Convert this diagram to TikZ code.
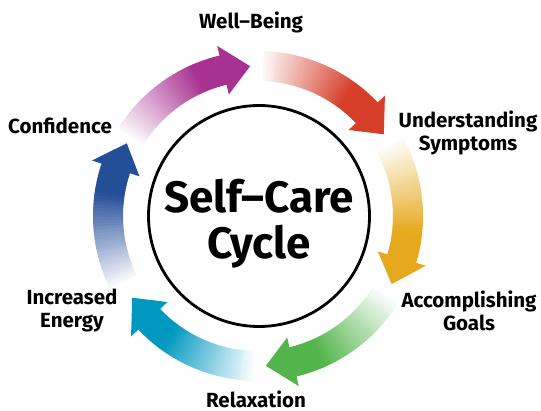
\documentclass[tikz,border=0pt]{standalone}
\usepackage{fontspec}
\setmainfont{Fira Sans}
\definecolor{cpurple}{RGB}{168,50,145}
\definecolor{cred}{RGB}{214,62,42}
\definecolor{cyellow}{RGB}{230,168,28}
\definecolor{cgreen}{RGB}{82,180,74}
\definecolor{ccyan}{RGB}{0,152,192}
\definecolor{cblue}{RGB}{36,78,152}
\newcommand\cycarrow[3]{%
 \begin{scope}[shift={(C)}]
  \pgfmathsetmacro\hb{#3+10.5}
  \pgfmathsetmacro\cyspan{#2-\hb}
  \foreach \k in {0,...,39}{
    \pgfmathsetmacro\aa{#2-\cyspan*\k/40}
    \pgfmathsetmacro\bb{#2-\cyspan*(\k+1)/40-0.3}
    \pgfmathtruncatemacro\pp{min(100,3+100*(\k+0.5)/32)}
    \fill[#1!\pp!white] (\aa:135pt) arc[start angle=\aa, end angle=\bb, radius=135pt] -- (\bb:165pt) arc[start angle=\bb, end angle=\aa, radius=165pt] -- cycle;
  }
  \fill[#1] (\hb:125pt) -- (#3:150pt) -- (\hb:175pt) -- cycle;
 \end{scope}}
\begin{document}
\begin{tikzpicture}[x=1pt,y=1pt,
  lbl/.style={font=\bfseries\fontsize{20.5}{23}\selectfont, align=center, inner sep=0pt, anchor=base}]
\useasboundingbox (0,0) rectangle (541,-410);
\coordinate (C) at (258,-216);
\cycarrow{cpurple}{148}{93}
\cycarrow{cred}{88}{33}
\cycarrow{cyellow}{28}{-27}
\cycarrow{cgreen}{-32}{-87}
\cycarrow{ccyan}{-92}{-147}
\cycarrow{cblue}{206}{151}
\node[circle, draw, line width=2.8pt, minimum size=221pt] (core) at (259,-216) {};
\node[font=\bfseries\fontsize{44}{46}\selectfont, align=center, inner sep=0pt, anchor=base] (title) at (259,-258) {Self--Care\\Cycle};
\node[lbl] (wb) at (251,-28) {Well--Being};
\node[lbl] (us) at (468,-150) {Understanding\\Symptoms};
\node[lbl] (ag) at (469,-330) {Accomplishing\\Goals};
\node[lbl] (rx) at (256,-407) {Relaxation};
\node[lbl] (ie) at (72,-327) {Increased\\Energy};
\node[lbl] (cf) at (60,-133) {Confidence};
\end{tikzpicture}
\end{document}
